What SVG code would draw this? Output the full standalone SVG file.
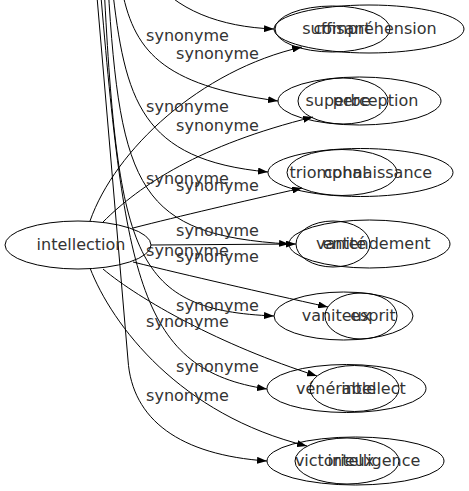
<svg xmlns="http://www.w3.org/2000/svg" width="469" height="491" viewBox="0 0 469 491">
<style>
.node ellipse{fill:none;stroke:#000;stroke-width:1}
text{font-family:"DejaVu Sans",sans-serif;font-size:16px;fill:#333;text-anchor:middle}
.edge path{fill:none;stroke:#000;stroke-width:1}
</style>
<defs>
<marker id="ah" markerUnits="userSpaceOnUse" markerWidth="10" markerHeight="7" refX="10" refY="3.5" orient="auto">
<path d="M0,0 L10,3.5 L0,7 z" fill="#000"/>
</marker>
</defs>
<rect width="469" height="491" fill="#fff"/>
<g id="edges" class="edge">
<path d="M90,221 C115,150 200,70 302,47" marker-end="url(#ah)"/>
<path d="M103,222 C140,185 200,145 313,117" marker-end="url(#ah)"/>
<path d="M133,228 C180,216 240,202 302,188" marker-end="url(#ah)"/>
<path d="M151,245 L296,244" marker-end="url(#ah)"/>
<path d="M133,262 C190,276 260,292 328,307" marker-end="url(#ah)"/>
<path d="M103,269 C140,300 220,345 317,376" marker-end="url(#ah)"/>
<path d="M90,268 C112,325 180,415 307,446" marker-end="url(#ah)"/>
<path d="M150,-25 C175,10 220,27 274,29" marker-end="url(#ah)"/>
<path d="M121,-15 C133,50 160,85 278,101" marker-end="url(#ah)"/>
<path d="M112,-15 C125,100 140,160 268,172" marker-end="url(#ah)"/>
<path d="M108,-15 C120,190 140,235 289,244" marker-end="url(#ah)"/>
<path d="M104,-15 C118,260 135,310 274,316" marker-end="url(#ah)"/>
<path d="M100,-15 C125,280 140,370 267,389" marker-end="url(#ah)"/>
<path d="M96,-15 L128,360 C132,420 180,455 267,461" marker-end="url(#ah)"/>
</g>
<g id="labels">
<text x="187.5" y="41">synonyme</text>
<text x="187.5" y="112">synonyme</text>
<text x="187.5" y="184">synonyme</text>
<text x="187.5" y="255.5">synonyme</text>
<text x="187.5" y="327">synonyme</text>
<text x="187.5" y="400.5">synonyme</text>
<text x="217.5" y="59">synonyme</text>
<text x="217.5" y="130.5">synonyme</text>
<text x="217.5" y="190.5">synonyme</text>
<text x="217.5" y="235.5">synonyme</text>
<text x="217.5" y="262">synonyme</text>
<text x="217.5" y="310.5">synonyme</text>
<text x="217.5" y="372">synonyme</text>
</g>
<g id="intellection" class="node"><ellipse cx="78" cy="245" rx="73" ry="24"/><text x="81" y="250">intellection</text></g>
<g id="suffisant" class="node"><ellipse cx="369" cy="29" rx="95" ry="24"/><text x="336.5" y="34">suffisant</text></g>
<g id="comprehension" class="node"><ellipse cx="332.5" cy="29" rx="57.5" ry="23"/><text x="375" y="34">compréhension</text></g>
<g id="superbe" class="node"><ellipse cx="359.5" cy="101" rx="81.5" ry="24"/><text x="338" y="106">superbe</text></g>
<g id="perception" class="node"><ellipse cx="343" cy="101" rx="45" ry="23"/><text x="375.5" y="106">perception</text></g>
<g id="triomphal" class="node"><ellipse cx="360.5" cy="172.5" rx="92.5" ry="24"/><text x="328" y="177.5">triomphal</text></g>
<g id="connaissance" class="node"><ellipse cx="342" cy="172.5" rx="55" ry="23"/><text x="378" y="177.5">connaissance</text></g>
<g id="vanite" class="node"><ellipse cx="369.5" cy="244" rx="80.5" ry="24"/><text x="341" y="249">vanité</text></g>
<g id="entendement" class="node"><ellipse cx="333" cy="244" rx="37" ry="23"/><text x="376.5" y="249">entendement</text></g>
<g id="vaniteux" class="node"><ellipse cx="343.5" cy="316" rx="69.5" ry="24"/><text x="336.5" y="321">vaniteux</text></g>
<g id="esprit" class="node"><ellipse cx="361" cy="316" rx="36" ry="23"/><text x="373" y="321">esprit</text></g>
<g id="venerable" class="node"><ellipse cx="346.5" cy="388.5" rx="79.5" ry="24"/><text x="336" y="393.5">vénérable</text></g>
<g id="intellect" class="node"><ellipse cx="354.5" cy="388.5" rx="44.5" ry="23"/><text x="373.5" y="393.5">intellect</text></g>
<g id="victorieux" class="node"><ellipse cx="355.5" cy="461" rx="88.5" ry="24"/><text x="334.5" y="466">victorieux</text></g>
<g id="intelligence" class="node"><ellipse cx="347" cy="461" rx="52" ry="23"/><text x="374" y="466">intelligence</text></g>
</svg>
